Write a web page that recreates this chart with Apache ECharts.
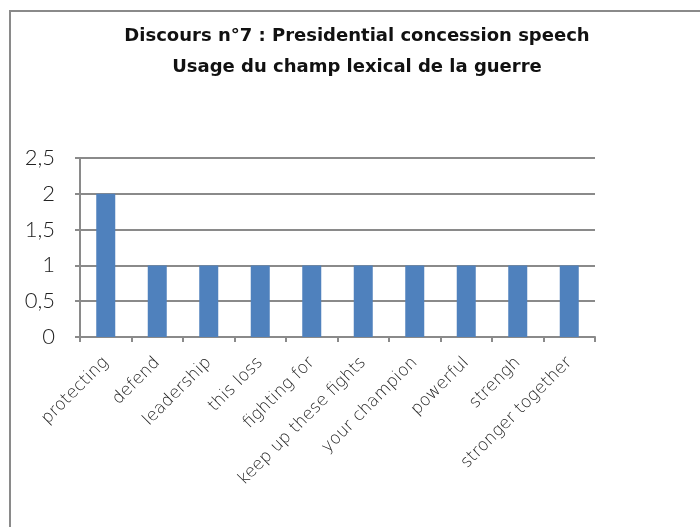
<!DOCTYPE html>
<html>
<head>
<meta charset="utf-8">
<script src="https://cdn.jsdelivr.net/npm/echarts@6/dist/echarts.min.js"></script>
<style>
  html, body { margin: 0; padding: 0; background: #fff; }
  #frame {
    position: absolute; left: 9px; top: 10px; width: 700px; height: 530px;
    border-left: 2px solid #8a8a8a; border-top: 2px solid #8a8a8a;
  }
  #chart { position: absolute; left: 0; top: 0; width: 700px; height: 527px; }
</style>
</head>
<body>
<div id="frame"></div>
<div id="chart"></div>
<script>
// mots du champ lexical de la guerre
var categories = ['protecting', 'defend', 'leadership', 'this loss', 'fighting for',
  'keep up these fights', 'your champion', 'powerful', 'strengh', 'stronger together'];
var counts = [2, 1, 1, 1, 1, 1, 1, 1, 1, 1];
var yTicks = [0, 0.5, 1, 1.5, 2, 2.5];

var chart = echarts.init(document.getElementById('chart'));
var option = {
  animation: false,
  title: {
    text: 'Discours n°7 : Presidential concession speech\nUsage du champ lexical de la guerre',
    left: 352,
    textAlign: 'center',
    top: 16,
    textStyle: {
      fontFamily: 'DejaVu Sans',
      fontWeight: 'bold',
      fontSize: 18,
      color: '#111',
      lineHeight: 31
    }
  },
  grid: {
    left: 80,
    top: 158,
    width: 515,
    height: 179
  },
  xAxis: {
    type: 'category',
    data: categories,
    axisLine: { lineStyle: { color: '#8a8a8a', width: 2 } },
    axisTick: { show: true, length: 5, lineStyle: { color: '#8a8a8a', width: 2 } },
    axisLabel: {
      rotate: 45,
      interval: 0,
      margin: 23,
      fontFamily: 'DejaVu Sans',
      fontWeight: 200,
      fontSize: 17,
      color: '#222'
    }
  },
  yAxis: {
    type: 'value',
    min: yTicks[0],
    max: yTicks[yTicks.length - 1],
    interval: 0.5,
    axisLine: { show: true, lineStyle: { color: '#8a8a8a', width: 2 } },
    axisTick: { show: true, length: 5, inside: false, lineStyle: { color: '#8a8a8a', width: 2 } },
    splitLine: { lineStyle: { color: '#8a8a8a', width: 2 } },
    axisLabel: {
      margin: 25,
      fontFamily: 'Lato',
      fontWeight: 300,
      fontSize: 22,
      color: '#222',
      formatter: function (v) { return String(v).replace('.', ','); }
    }
  },
  series: [{
    type: 'bar',
    data: counts,
    barWidth: 19,
    itemStyle: { color: '#4f81bd' }
  }]
};
chart.setOption(option);
</script>
</body>
</html>
